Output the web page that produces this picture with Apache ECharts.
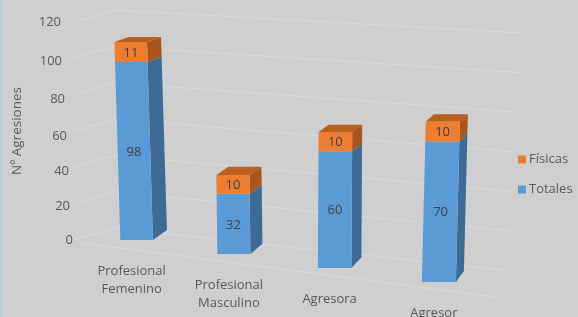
<!DOCTYPE html>
<html>
<head>
<meta charset="utf-8">
<script src="https://cdn.jsdelivr.net/npm/echarts@6/dist/echarts.min.js"></script>
<style>
html,body{margin:0;padding:0;background:#d0cfcf;}
#c{width:578px;height:317px;box-sizing:border-box;border-left:2px solid #a9d3da;}
</style>
</head>
<body>
<div id="c"></div>
<script>
// ---- data ----
const categories = ['Profesional\nFemenino', 'Profesional\nMasculino', 'Agresora', 'Agresor'];
const totales = [98, 32, 60, 70];
const fisicas = [11, 10, 10, 10];
const yTicks = [0, 20, 40, 60, 80, 100, 120];
const seriesNames = ['Físicas', 'Totales'];

// ---- perspective helpers (styling only) ----
function proj(api, i, v) {
  const c0 = api.coord([i, 0]);
  const cv = api.coord([i, v]);
  const s = 1 + i * 0.035;
  const baseY = c0[1] + i * 14;
  const h = (c0[1] - cv[1]) * s;
  const cx = c0[0] + i * (i - 1) * 1.75;
  const lean = (cx - 300) * 0.00018 * h;
  return [cx + lean, baseY - h];
}
function depth(i, y) { return [14 - 2 * i, -4 - y / 40]; }

function boxRenderer(front, side, top, drawTop) {
  return function (params, api) {
    const i = api.value(0), a = api.value(1), b = api.value(2);
    const w = api.size([1, 0])[0] * 0.335 + i * 0.5;
    const pa = proj(api, i, a), pb = proj(api, i, b);
    const FLb = [pa[0] - w / 2, pa[1]], FRb = [pa[0] + w / 2, pa[1]];
    const FLt = [pb[0] - w / 2, pb[1]], FRt = [pb[0] + w / 2, pb[1]];
    const da = depth(i, pa[1]), db = depth(i, pb[1]);
    const children = [
      { type: 'polygon', shape: { points: [FRb, FRt, [FRt[0] + db[0], FRt[1] + db[1]], [FRb[0] + da[0], FRb[1] + da[1]]] }, style: { fill: side } },
      { type: 'polygon', shape: { points: [FLb, FRb, FRt, FLt] }, style: { fill: front } }
    ];
    if (drawTop) {
      children.push({ type: 'polygon', shape: { points: [FLt, FRt, [FRt[0] + db[0], FRt[1] + db[1]], [FLt[0] + db[0], FLt[1] + db[1]]] }, style: { fill: top } });
    }
    children.push({ type: 'text', style: { x: (pa[0] + pb[0]) / 2, y: (pa[1] + pb[1]) / 2 + 1, text: String(b - a), align: 'center', verticalAlign: 'middle', fill: '#404040', font: '13px "Open Sans"' } });
    return { type: 'group', children };
  };
}

const totData = totales.map((v, i) => [i, 0, v]);
const fisData = fisicas.map((v, i) => [i, totales[i], totales[i] + v]);

const labelPad = { 120: [0, 12, 0, 0], 100: [6, 11, 0, 0], 80: [10, 8, 0, 0], 60: [10, 6, 0, 0], 40: [8, 4, 0, 0], 20: [6, 3, 0, 0], 0: [0, 0, 0, 0] };
const rich = {};
yTicks.forEach(t => { rich['t' + t] = { padding: labelPad[t], fontSize: 13, color: '#595959', fontFamily: 'Open Sans' }; });

const chart = echarts.init(document.getElementById('c'));
chart.setOption({
  animation: false,
  backgroundColor: '#d0cfcf',
  textStyle: { fontFamily: 'Open Sans' },
  grid: { left: 79, width: 396, top: 22, bottom: 77 },
  legend: {
    data: seriesNames, orient: 'vertical', left: 511, top: 148,
    itemWidth: 8, itemHeight: 8, itemGap: 17, icon: 'rect',
    textStyle: { color: '#595959', fontSize: 13, fontFamily: 'Open Sans', padding: [0, 0, 0, -2] }
  },
  xAxis: {
    type: 'category', data: categories,
    axisLine: { show: false }, axisTick: { show: false }, axisLabel: { show: false }, splitLine: { show: false }
  },
  yAxis: {
    type: 'value', min: 0, max: 120, interval: 20,
    name: 'Nº Agresiones', nameLocation: 'middle', nameRotate: 90, nameGap: 58,
    nameTextStyle: { color: '#595959', fontSize: 13.5, fontFamily: 'Open Sans', padding: [0, 0, 6, 0] },
    axisLine: { show: false }, axisTick: { show: false }, splitLine: { show: false },
    axisLabel: { margin: 15, formatter: v => '{t' + v + '|' + v + '}', rich }
  },
  series: [
    {
      type: 'custom', name: 'grid', silent: true, z: 1,
      data: yTicks.map(t => [0, t]),
      renderItem: function (params, api) {
        const v = api.value(1);
        const y = api.coord([0, v])[1];
        const xr = 505 + (240 - y) / 218 * 15;
        const lines = [{
          type: 'polyline',
          shape: { points: [[72, y], [112, y - 12], [xr, 9 + 1.0897 * y]] },
          style: { stroke: '#dbdbdb', lineWidth: 1, fill: null }
        }];
        if (v === 0) {
          lines.push({
            type: 'polyline',
            shape: { points: [[80, y + 3], [493, y + 57]] },
            style: { stroke: '#dbdbdb', lineWidth: 1, fill: null }
          });
        }
        return { type: 'group', children: lines };
      }
    },
    {
      type: 'custom', name: 'Totales', z: 2, data: totData,
      itemStyle: { color: '#5b9bd5' },
      renderItem: boxRenderer('#5b9bd5', '#3d6b96', '#4a82b8', false)
    },
    {
      type: 'custom', name: 'Físicas', z: 3, data: fisData,
      itemStyle: { color: '#ed7d31' },
      renderItem: boxRenderer('#ed7d31', '#a9561d', '#b9601f', true)
    },
    {
      type: 'custom', name: 'cats', silent: true, z: 4,
      data: categories.map((c, i) => [i, 0]),
      renderItem: function (params, api) {
        const i = api.value(0);
        const p = proj(api, i, 0);
        return {
          type: 'text',
          style: { x: p[0] - 5, y: p[1] + 22, text: categories[i], align: 'center', verticalAlign: 'top', lineHeight: 18, fill: '#595959', font: '13px "Open Sans"' }
        };
      }
    }
  ]
});
</script>
</body>
</html>
